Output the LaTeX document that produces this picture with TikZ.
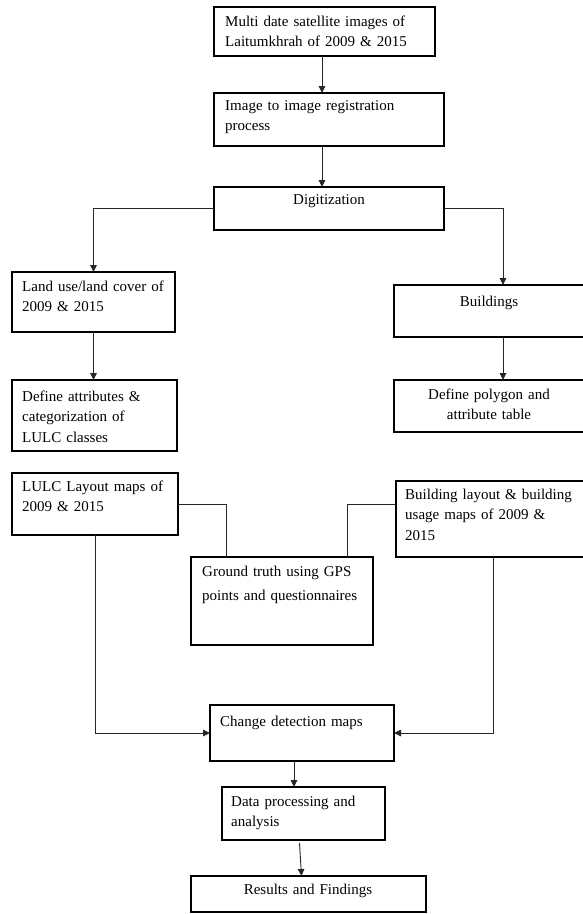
\documentclass[tikz,border=0pt]{standalone}
\usepackage{fontspec}
\setmainfont{Liberation Serif}
\usepackage{tikz}
\usetikzlibrary{arrows.meta}
\usetikzlibrary{positioning, fit}
\tikzset{
stage/.style = { rectangle, draw = black, fill = none, line width = 1.1pt, inner sep = 0pt, outer sep = 0pt },
stage text/.style = { black, inner sep = 0pt, text width = #1, font = \fontsize{15}{20.5}\selectfont },
stage text/.default = 200pt,
flow/.style = { draw = black!85, line width = 0.9pt, -{Triangle[length = 7pt, width = 6.5pt]} },
link/.style = { draw = black!85, line width = 0.9pt },
}

\begin{document}
\begin{tikzpicture}[x = 1pt, y = -1pt]
    \useasboundingbox[fill = white] (0, 0) rectangle (583, 914);
    % boxes
    \node[stage, fit = {(214, 7) (435, 56)}] (sat) {};
    \node[stage, fit = {(214, 93) (444, 146)}] (reg) {};
    \node[stage, fit = {(214, 187) (444, 230)}] (digit) {};
    \node[stage, fit = {(12, 272) (175, 332)}] (lulc) {};
    \node[stage, fit = {(394, 285) (585, 337)}] (bldg) {};
    \node[stage, fit = {(12, 380) (177, 451)}] (attr) {};
    \node[stage, fit = {(394, 380) (585, 432)}] (poly) {};
    \node[stage, fit = {(12, 473) (178, 535)}] (lulcmap) {};
    \node[stage, fit = {(396, 481) (586, 557)}] (bldgmap) {};
    \node[stage, fit = {(191, 557) (373, 645)}] (gps) {};
    \node[stage, fit = {(210, 705) (394, 761)}] (change) {};
    \node[stage, fit = {(222, 787) (385, 840)}] (proc) {};
    \node[stage, fit = {(191, 876) (426, 912)}] (result) {};
    % texts
    \node[stage text, anchor = base west] (sat-t) at (225, 26) {Multi date satellite images of\\Laitumkhrah of 2009 \& 2015};
    \node[stage text, anchor = base west] (reg-t) at (225, 110) {Image to image registration\\process};
    \node[stage text = 200pt, align = center, anchor = base] (digit-t) at (329, 204) {Digitization};
    \node[stage text, anchor = base west] (lulc-t) at (22, 291) {Land use/land cover of\\2009 \& 2015};
    \node[stage text = 180pt, align = center, anchor = base] (bldg-t) at (489, 306) {Buildings};
    \node[stage text, anchor = base west] (attr-t) at (22, 401) {Define attributes \&\\categorization of\\LULC classes};
    \node[stage text = 180pt, align = center, anchor = base] (poly-t) at (489, 399) {Define polygon and\\attribute table};
    \node[stage text, anchor = base west] (lulcmap-t) at (22, 491) {LULC Layout maps of\\2009 \& 2015};
    \node[stage text, anchor = base west] (bldgmap-t) at (405, 499) {Building layout \& building\\usage maps of 2009 \&\\2015};
    \node[stage text, anchor = base west] (gps-t) at (202, 576) {Ground truth using GPS\\[3.5pt]points and questionnaires};
    \node[stage text, anchor = base west] (change-t) at (220, 726) {Change detection maps};
    \node[stage text, anchor = base west] (proc-t) at (231, 806) {Data processing and\\analysis};
    \node[stage text = 220pt, align = center, anchor = base] (result-t) at (308, 894) {Results and Findings};
    % connectors
    \draw[flow] ([xshift = -2.5pt]sat.south) -- ([xshift = -2.5pt]sat.south |- reg.north);
    \draw[flow] ([xshift = -2.5pt]reg.south -| sat.south) -- ([xshift = -2.5pt]sat.south |- digit.north);
    \draw[flow] (digit.west) -| (lulc.north);
    \draw[flow] (digit.east) -| ([xshift = 13.5pt]bldg.north);
    \draw[flow] (lulc.south) -- (lulc.south |- attr.north);
    \draw[flow] ([xshift = 13.5pt]bldg.south) -- ([xshift = 13.5pt]bldg.south |- poly.north);
    \draw[link] (lulcmap.east) -| ([xshift = 35pt]gps.north west);
    \draw[link] (bldgmap.west |- lulcmap.east) -| ([xshift = -26pt]gps.north east);
    \draw[flow] (lulcmap.south) |- (change.west);
    \draw[flow] ([xshift = 2.5pt]bldgmap.south) |- (change.east);
    \draw[flow] ([xshift = -8pt]change.south) -- ([xshift = -8pt]change.south |- proc.north);
    \draw[flow] ([shift = {(-4pt, -3pt)}]proc.south) -- ([xshift = -2pt]proc.south |- result.north);
\end{tikzpicture}
\end{document}
